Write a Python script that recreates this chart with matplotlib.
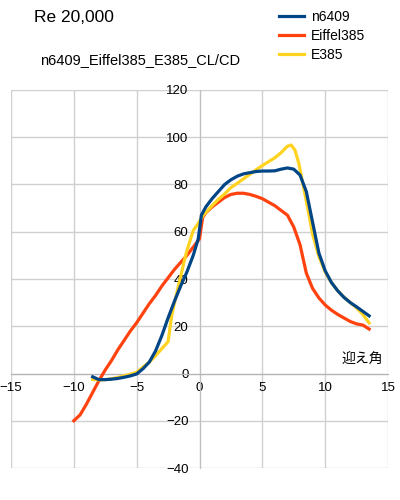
import matplotlib.pyplot as plt

# n6409
n6409_x = [-8.5, -8.0, -7.5, -7.0, -6.5, -6.0, -5.5, -5.0, -4.5, -4.0, -3.5, -3.0,
           -2.5, -2.0, -1.5, -1.0, -0.5, -0.1, 0.15, 0.5, 1.0, 1.5, 2.0, 2.5, 3.0,
           3.5, 4.0, 4.5, 5.0, 5.5, 6.0, 6.5, 7.0, 7.5, 8.0, 8.5, 9.0, 9.5, 10.0,
           10.5, 11.0, 11.5, 12.0, 12.5, 13.0, 13.5]
n6409_y = [-1.4, -2.6, -2.6, -2.4, -2.1, -1.6, -1.0, -0.2, 2.0, 4.8, 9.5, 16.0,
           23.5, 30.5, 37.0, 43.0, 50.0, 57.0, 67.0, 70.5, 74.0, 77.0, 80.0, 82.0,
           83.5, 84.5, 85.0, 85.5, 85.7, 85.7, 85.8, 86.5, 87.0, 86.5, 84.0, 77.0,
           64.0, 51.0, 43.5, 38.5, 35.0, 32.2, 30.0, 28.2, 26.3, 24.4]

# Eiffel385
eiffel_x = [-10.0, -9.5, -9.0, -8.5, -8.0, -7.5, -7.0, -6.5, -6.0, -5.5, -5.0, -4.5,
            -4.0, -3.5, -3.0, -2.5, -2.0, -1.5, -1.0, -0.5, 0.0, 0.25, 0.5, 1.0,
            1.5, 2.0, 2.5, 3.0, 3.5, 4.0, 4.5, 5.0, 5.5, 6.0, 6.5, 7.0, 7.5, 8.0,
            8.5, 9.0, 9.5, 10.0, 10.5, 11.0, 11.5, 12.0, 12.5, 13.0, 13.5]
eiffel_y = [-20.0, -17.5, -13.0, -8.0, -3.0, 1.5, 5.5, 10.0, 14.0, 18.0, 21.5, 25.5,
            29.5, 33.0, 37.0, 40.5, 44.0, 47.0, 50.0, 53.5, 57.0, 66.0, 68.0, 70.5,
            72.5, 74.5, 75.8, 76.3, 76.3, 75.8, 75.0, 74.0, 72.5, 71.0, 69.0, 67.0,
            62.0, 54.5, 42.5, 36.0, 32.0, 29.0, 26.8, 25.0, 23.5, 22.0, 21.0, 20.5, 18.8]

# E385
e385_x = [-8.5, -8.0, -7.5, -7.0, -6.5, -6.0, -5.5, -5.0, -4.5, -4.0, -3.5, -3.0,
          -2.5, -2.2, -1.7, -1.2, -1.0, -0.5, -0.1, 0.3, 1.0, 1.5, 2.0, 2.5, 3.0,
          3.5, 4.0, 4.5, 5.0, 5.5, 6.0, 6.5, 7.0, 7.3, 7.6, 7.9, 8.2, 8.5, 9.0,
          9.5, 10.0, 10.5, 11.0, 11.5, 12.0, 12.5, 13.0, 13.5]
e385_y = [-2.5, -2.7, -2.6, -2.2, -1.7, -1.0, -0.3, 0.5, 2.7, 4.8, 7.5, 10.5,
          13.5, 25.0, 36.5, 48.0, 52.0, 60.5, 63.5, 67.0, 71.0, 73.7, 76.0, 78.7,
          80.5, 82.4, 84.3, 86.2, 88.0, 89.7, 91.3, 93.5, 96.2, 96.7, 94.5, 89.0,
          81.0, 73.0, 59.0, 49.5, 43.0, 38.5, 35.0, 32.3, 30.0, 27.8, 25.0, 21.4]

x_ticks = [-15, -10, -5, 0, 5, 10, 15]
y_ticks = [-40, -20, 0, 20, 40, 60, 80, 100, 120]

grid_c = '#d0d0d0'
font = 'Liberation Sans'

fig = plt.figure(figsize=(4, 5), dpi=100)
ax = fig.add_axes([11 / 400, 1 - 468 / 500, 377 / 400, 378 / 500])

ax.plot(eiffel_x, eiffel_y, color='#ff420e', lw=2.3, label='Eiffel385', zorder=3)
ax.plot(e385_x, e385_y, color='#ffd320', lw=2.3, label='E385', zorder=3)
ax.plot(n6409_x, n6409_y, color='#004586', lw=2.3, label='n6409', zorder=4)

ax.set_xlim(-15, 15)
ax.set_ylim(-40, 120)
ax.set_xticks(x_ticks)
ax.set_yticks(y_ticks)
ax.grid(True, color=grid_c, lw=1)
ax.set_axisbelow(True)

for s in ['top', 'right']:
    ax.spines[s].set_visible(False)
ax.spines['left'].set_position(('data', 0))
ax.spines['bottom'].set_position(('data', 0))
ax.spines['left'].set_color('#c0c0c0')
ax.spines['bottom'].set_color('#b3b3b3')
ax.tick_params(length=0, labelsize=9.5, colors='black')
ax.tick_params(axis='x', pad=6)
ax.tick_params(axis='y', pad=8)
for lab in ax.get_xticklabels() + ax.get_yticklabels():
    lab.set_family(font)

ax.text(14.6, 3, '迎え角', ha='right', va='bottom', fontsize=10,
        family=['Noto Sans CJK JP', 'DejaVu Sans'])

fig.text(34 / 400, 1 - 18 / 500, 'Re 20,000', fontsize=12.5, va='center',
         family=font)
fig.text(40 / 400, 1 - 60 / 500, 'n6409_Eiffel385_E385_CL/CD', fontsize=10.5,
         va='center', family=font)

h, l = ax.get_legend_handles_labels()
order = [2, 0, 1]
fig.legend([h[i] for i in order], [l[i] for i in order],
           loc='upper left', bbox_to_anchor=(279 / 400, 1 - 10 / 500),
           frameon=False, borderpad=0, borderaxespad=0,
           handlelength=1.8, handletextpad=0.5, labelspacing=0.35,
           prop={'family': font, 'size': 10})

plt.savefig('out.png')
